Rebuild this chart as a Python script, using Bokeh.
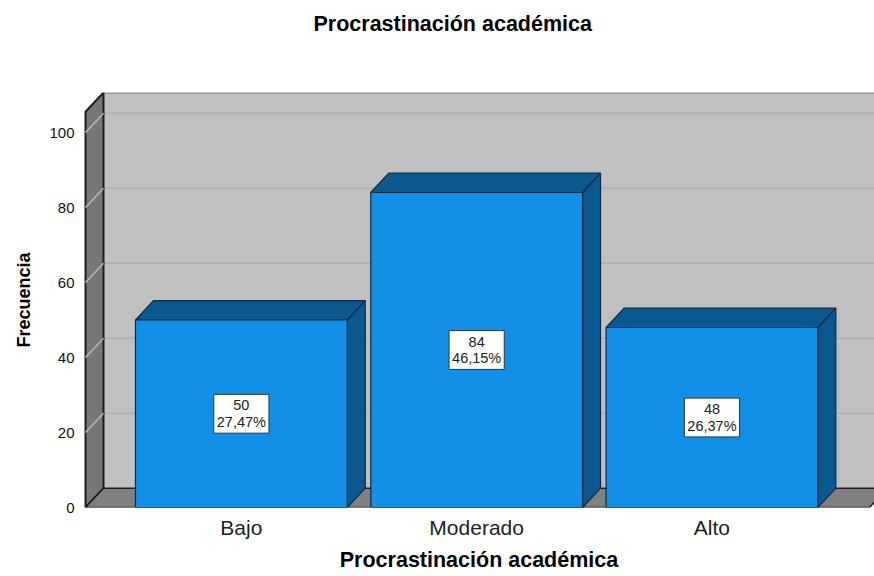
from bokeh.plotting import figure
from bokeh.models import Range1d, FixedTicker, Title, ColumnDataSource
from bokeh.embed import file_html
from bokeh.resources import INLINE
from bokeh.core.properties import value

# Frequencies of the "Procrastinación académica" levels
categories = ["Bajo", "Moderado", "Alto"]
counts = [50, 84, 48]
percents = ["27,47%", "46,15%", "26,37%"]
y_ticks = [0, 20, 40, 60, 80, 100]

FONT = "Liberation Sans"

# Frame geometry (pixels) and the matching data ranges
FRAME_L, FRAME_W, FRAME_H = 83, 791, 415
PX_PER_CAT = 235.3
X_START = -(240.85 - FRAME_L) / PX_PER_CAT
X_END = X_START + FRAME_W / PX_PER_CAT
Y_END = 110.67
PX_PER_UNIT = FRAME_H / Y_END

# Depth offset of the pseudo-3D walls and bars, in data units
DX = 18 / PX_PER_CAT
DY = 19.3 / PX_PER_UNIT
HALF = 0.45
WALL_X = X_START + 2 / PX_PER_CAT
FLOOR_R = WALL_X + (869 - 85) / PX_PER_CAT

FRONT = "#128FE6"
DARK = "#0A588D"
EDGE = "#0B2C47"

p = figure(
    width=874, height=576,
    frame_width=FRAME_W, frame_height=FRAME_H,
    x_range=Range1d(X_START, X_END), y_range=Range1d(0, Y_END),
    output_backend="svg", toolbar_location=None, title=None,
    min_border_left=FRAME_L, min_border_right=0,
    min_border_top=92, min_border_bottom=69,
)
p.outline_line_color = None
p.background_fill_color = "white"
p.border_fill_color = "white"
p.xgrid.visible = False
p.ygrid.visible = False

# back wall
p.patch([WALL_X + DX, X_END + 0.2, X_END + 0.2, WALL_X + DX],
        [DY, DY, Y_END, Y_END],
        fill_color="#C0C0C0", line_color=None)
p.line([WALL_X + DX, X_END + 0.2], [Y_END - 0.15, Y_END - 0.15],
       line_color="#8C8C8C", line_width=1.5)

# grid lines on the back wall
grid_vals = [t for t in y_ticks if t > 0]
p.segment(x0=[WALL_X + DX] * len(grid_vals), y0=[t + DY for t in grid_vals],
          x1=[X_END + 0.2] * len(grid_vals), y1=[t + DY for t in grid_vals],
          line_color="#AEAEAE", line_width=1.5)

# left wall with its slanted grid lines
p.patch([WALL_X, WALL_X + DX, WALL_X + DX, WALL_X],
        [0, DY, Y_END, Y_END - DY],
        fill_color="#777777", line_color="#1E1E1E", line_width=2)
p.segment(x0=[WALL_X] * len(grid_vals), y0=grid_vals,
          x1=[WALL_X + DX] * len(grid_vals), y1=[t + DY for t in grid_vals],
          line_color="#B8B8B8", line_width=1.5)

# floor
p.patch([WALL_X, WALL_X + DX, FLOOR_R + DX, FLOOR_R],
        [0, DY, DY, 0],
        fill_color="#808080", line_color="#1E1E1E", line_width=1.5)

# bars: side, top and front faces
xs_idx = list(range(len(categories)))
side_xs, side_ys, top_xs, top_ys = [], [], [], []
for i, v in zip(xs_idx, counts):
    r, l = i + HALF, i - HALF
    side_xs.append([r, r + DX, r + DX, r])
    side_ys.append([0, DY, v + DY, v])
    top_xs.append([l, l + DX, r + DX, r])
    top_ys.append([v, v + DY, v + DY, v])

p.patches(side_xs, side_ys, fill_color=DARK, line_color=EDGE, line_width=1.2)
p.patches(top_xs, top_ys, fill_color=DARK, line_color=EDGE, line_width=1.2)
p.quad(left=[i - HALF for i in xs_idx], right=[i + HALF for i in xs_idx],
       bottom=[0] * len(counts), top=counts,
       fill_color=FRONT, line_color=EDGE, line_width=1.2)

# value labels in the middle of each bar
lab = ColumnDataSource(dict(
    x=xs_idx,
    y=[v / 2 for v in counts],
    text=[f"{c}\n{pc}" for c, pc in zip(counts, percents)],
))
p.text(x="x", y="y", text="text", source=lab,
       text_font=value(FONT), text_font_size="14.5px", text_color="#222222",
       text_align="center", text_baseline="middle", text_line_height=1.05,
       background_fill_color="white", border_line_color="#333333",
       border_line_width=1, padding=3)

# axes
p.yaxis.ticker = FixedTicker(ticks=y_ticks)
p.yaxis.axis_line_color = None
p.yaxis.major_tick_line_color = None
p.yaxis.minor_tick_line_color = None
p.yaxis.major_label_text_font = FONT
p.yaxis.major_label_text_font_size = "15px"
p.yaxis.major_label_text_color = "#111111"
p.yaxis.major_label_standoff = 3
p.yaxis.axis_label = "Frecuencia"
p.yaxis.axis_label_text_font = FONT
p.yaxis.axis_label_text_font_size = "18px"
p.yaxis.axis_label_text_font_style = "bold"
p.yaxis.axis_label_text_color = "#000000"
p.yaxis.axis_label_standoff = 12

p.xaxis.ticker = FixedTicker(ticks=xs_idx)
p.xaxis.major_label_overrides = {i: c for i, c in zip(xs_idx, categories)}
p.xaxis.axis_line_color = None
p.xaxis.major_tick_line_color = None
p.xaxis.minor_tick_line_color = None
p.xaxis.major_label_text_font = FONT
p.xaxis.major_label_text_font_size = "21px"
p.xaxis.major_label_text_color = "#222222"
p.xaxis.major_label_standoff = 2
p.xaxis.axis_label = "Procrastinación académica"
p.xaxis.axis_label_text_font = FONT
p.xaxis.axis_label_text_font_size = "21.5px"
p.xaxis.axis_label_text_font_style = "bold"
p.xaxis.axis_label_text_color = "#000000"
p.xaxis.axis_label_standoff = 6

# title, pushed up by an empty spacer title below it
p.add_layout(Title(text=" ", text_font_size="10px", standoff=42), "above")
p.add_layout(Title(text="Procrastinación académica", text_font=FONT,
                   text_font_size="21.5px", text_font_style="bold",
                   text_color="#000000", align="left", offset=313 - FRAME_L,
                   vertical_align="top", standoff=0), "above")

open("out.html", "w").write(file_html(p, INLINE))
